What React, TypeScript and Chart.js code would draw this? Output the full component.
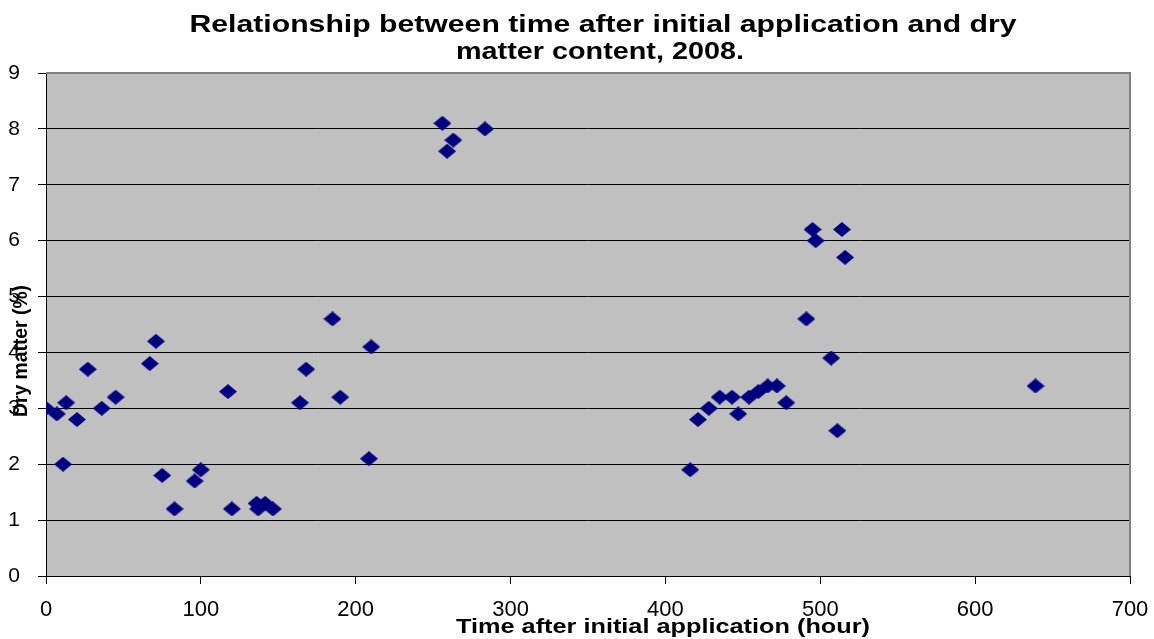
import React, { useEffect, useRef } from "react";
import { Chart, registerables } from "chart.js";

Chart.register(...registerables);

const hours: number[] = [
  0, 7, 11, 13, 20, 27, 36, 45, 67, 71, 75, 83, 96, 100, 117.5, 120, 136, 137, 141.5, 146.5,
  164, 168, 185, 190, 208.5, 210, 256, 259, 263, 283.5, 416, 421, 428, 435, 443, 447, 454,
  460, 466, 472, 478, 491, 495, 497, 507, 511, 514, 516, 639,
];
const dryMatter: number[] = [
  3.0, 2.9, 2.0, 3.1, 2.8, 3.7, 3.0, 3.2, 3.8, 4.2, 1.8, 1.2, 1.7, 1.9, 3.3, 1.2, 1.3, 1.2, 1.3, 1.2,
  3.1, 3.7, 4.6, 3.2, 2.1, 4.1, 8.1, 7.6, 7.8, 8.0, 1.9, 2.8, 3.0, 3.2, 3.2, 2.9, 3.2,
  3.3, 3.4, 3.4, 3.1, 4.6, 6.2, 6.0, 3.9, 2.6, 6.2, 5.7, 3.4,
];
const titleLines: string[] = [
  "Relationship between time after initial application and dry",
  "matter content, 2008.",
];
const xTitle = "Time after initial application (hour)";
const yTitle = "Dry matter (%)";

const FONT = "'Liberation Sans', Arial, sans-serif";

function makeDiamond(): HTMLCanvasElement {
  const c = document.createElement("canvas");
  c.width = 18;
  c.height = 15;
  const g = c.getContext("2d")!;
  g.fillStyle = "#000080";
  g.beginPath();
  g.moveTo(0, 7.5);
  g.lineTo(9, 0);
  g.lineTo(18, 7.5);
  g.lineTo(9, 15);
  g.closePath();
  g.fill();
  return c;
}

function drawFitted(ctx: CanvasRenderingContext2D, text: string, cx: number, cy: number, width: number, font: string) {
  ctx.save();
  ctx.font = font;
  const w = ctx.measureText(text).width;
  ctx.translate(cx, cy);
  ctx.scale(width / w, 1);
  ctx.textAlign = "center";
  ctx.textBaseline = "alphabetic";
  ctx.fillStyle = "#000";
  ctx.fillText(text, 0, 0);
  ctx.restore();
}

const decor = {
  id: "decor",
  beforeDraw(chart: any) {
    const { ctx, chartArea: a } = chart;
    ctx.save();
    ctx.fillStyle = "#C0C0C0";
    ctx.fillRect(a.left, a.top, a.right - a.left, a.bottom - a.top);
    ctx.restore();
  },
  afterDraw(chart: any) {
    const { ctx, chartArea: a } = chart;
    ctx.save();
    ctx.strokeStyle = "#808080";
    ctx.lineWidth = 2;
    ctx.beginPath();
    ctx.moveTo(a.left, a.top);
    ctx.lineTo(a.right, a.top);
    ctx.lineTo(a.right, a.bottom);
    ctx.stroke();
    ctx.restore();
    drawFitted(ctx, titleLines[0], 603, 32, 827, `bold 24px ${FONT}`);
    drawFitted(ctx, titleLines[1], 600, 59, 288, `bold 24px ${FONT}`);
    drawFitted(ctx, xTitle, 663, 633, 414, `bold 21px ${FONT}`);
    ctx.save();
    ctx.translate(27, 351);
    ctx.rotate(-Math.PI / 2);
    drawFitted(ctx, yTitle, 0, 0, 132, `bold 21px ${FONT}`);
    ctx.restore();
  },
};

export default function App() {
  const ref = useRef<HTMLCanvasElement>(null);
  useEffect(() => {
    const diamond = makeDiamond();
    const chart = new Chart(ref.current!, {
      type: "scatter",
      data: {
        datasets: [
          {
            data: hours.map((h, i) => ({ x: h, y: dryMatter[i] })),
            pointStyle: diamond as any,
            backgroundColor: "#000080",
            borderColor: "#000080",
          },
        ],
      },
      options: {
        animation: false,
        responsive: true,
        maintainAspectRatio: false,
        layout: { padding: { top: 73, right: 24, left: 0, bottom: 0 } },
        plugins: { legend: { display: false }, tooltip: { enabled: false }, title: { display: false } },
        scales: {
          x: {
            type: "linear",
            min: 0,
            max: 700,
            ticks: { stepSize: 100, color: "#000", font: { family: FONT, size: 22 }, padding: 13, maxRotation: 0 },
            grid: { drawOnChartArea: false, drawTicks: true, tickLength: 8, tickColor: "#000" },
            border: { color: "#000", width: 1 },
            afterFit(s: any) {
              s.height = 63;
              s.paddingLeft = 0;
              s.paddingRight = 0;
            },
          },
          y: {
            min: 0,
            max: 9,
            ticks: { stepSize: 1, color: "#000", font: { family: FONT, size: 21 }, padding: 18 },
            grid: { color: "#000", lineWidth: 1, drawTicks: true, tickLength: 8, tickColor: "#000" },
            border: { color: "#000", width: 1 },
            afterFit(s: any) {
              s.width = 46;
              s.paddingTop = 0;
              s.paddingBottom = 0;
            },
          },
        },
      },
      plugins: [decor],
    });
    return () => chart.destroy();
  }, []);
  return (
    <div style={{ position: "fixed", left: 0, top: 0, width: 1154, height: 639, background: "#fff" }}>
      <canvas ref={ref} />
    </div>
  );
}
